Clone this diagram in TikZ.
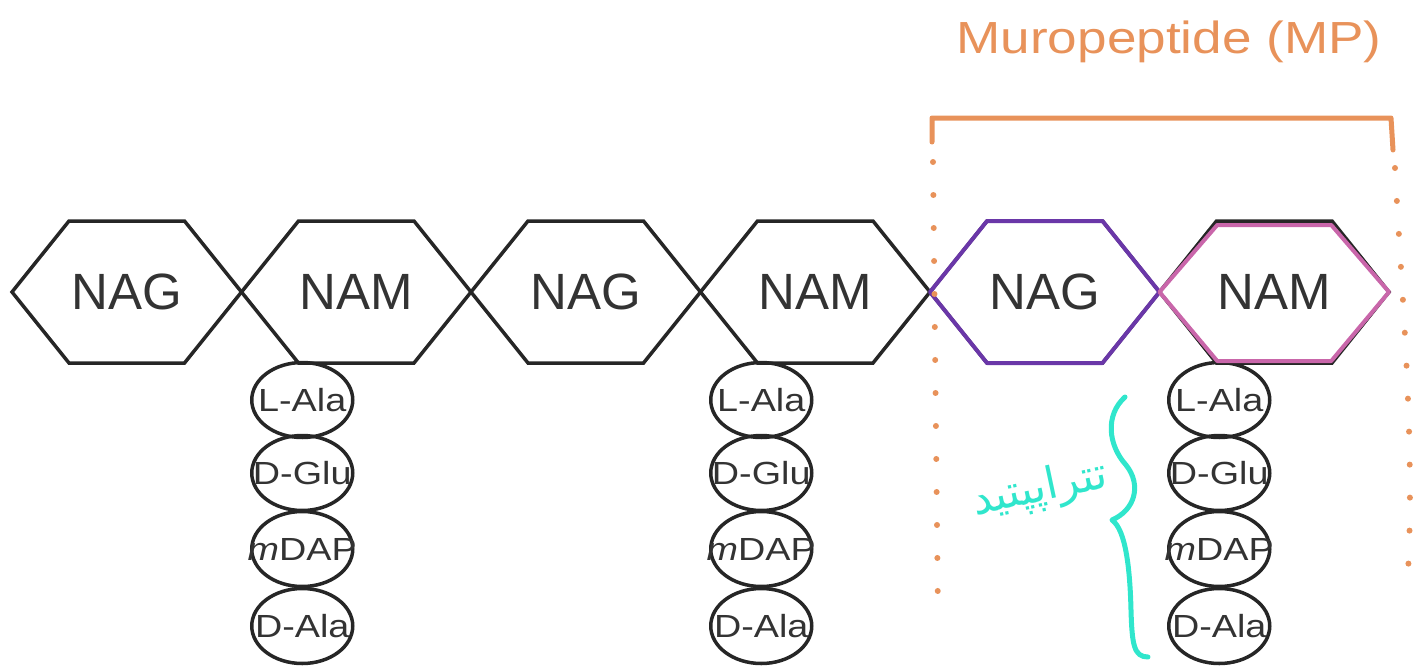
\documentclass[tikz,border=0pt]{standalone}
\usepackage{fontspec}
\setmainfont{Liberation Sans}
\newfontfamily\widesans[FakeStretch=1.18]{Liberation Sans}
\newfontfamily\fafont[Script=Arabic]{DejaVu Sans}
\TeXXeTstate=1
\usetikzlibrary{shapes.geometric}
\definecolor{ink}{HTML}{262626}
\definecolor{txt}{HTML}{333333}
\definecolor{mporange}{HTML}{E8925A}
\definecolor{mppurple}{HTML}{6A37A8}
\definecolor{mppink}{HTML}{C966AA}
\definecolor{mpteal}{HTML}{30E6CC}
\newcommand\hexat[1]{(#1.center) +(-114.75,0) -- +(-57.75,-71) -- +(57.75,-71) -- +(114.75,0) -- +(57.75,71) -- +(-57.75,71) -- cycle}
\newcommand\zw[1]{\makebox[0pt]{#1}}
\begin{document}
\begin{tikzpicture}[x=1pt,y=-1pt,
  sugar/.style={inner sep=0pt, text=txt, font=\fontsize{51}{51}\selectfont},
  hexline/.style={draw=ink, line width=3.5pt, line join=miter},
  amino/.style={ellipse, draw=ink, line width=3.5pt, inner sep=0pt, minimum width=101pt, minimum height=75pt, text=txt, font=\widesans\fontsize{32}{32}\selectfont},
  bracketline/.style={draw=mporange, line width=5pt, line cap=round, line join=round},
  dotline/.style={draw=mporange, line width=6pt, line cap=round, dash pattern=on 0pt off 33pt},
  hand/.style={line width=5pt, line cap=round, line join=round}]
\useasboundingbox (0,0) rectangle (1417,667);
% sugars
\node[sugar] (NAG1) at (126.75,292) {NAG};
\node[sugar] (NAM1) at (356.25,292) {NAM};
\node[sugar] (NAG2) at (585.75,292) {NAG};
\node[sugar] (NAM2) at (815.25,292) {NAM};
\node[sugar] (NAG3) at (1044.75,292) {NAG};
\node[sugar] (NAM3) at (1274.25,292) {NAM};
\foreach \h in {NAG1,NAM1,NAG2,NAM2,NAG3,NAM3} {\draw[hexline] \hexat{\h};}
% peptide stems
\foreach \c/\x in {a/302.25,b/761.25,c/1219.25} {
  \node[amino] (\c1) at (\x,400) {\zw{L-Ala}};
  \node[amino] (\c2) at (\x,473) {\zw{D-Glu}};
  \node[amino] (\c3) at (\x,549) {\zw{\textit{m}DAP}};
  \node[amino] (\c4) at (\x,626) {\zw{D-Ala}};
}
% coloured outlines
\draw[draw=mppurple, line width=4pt, line join=round] \hexat{NAG3};
\draw[draw=mppink, line width=4pt, line join=round] (NAM3.center) +(-114.75,0) -- +(-57,-67) -- +(57,-67) -- +(114.75,0) -- +(57,69) -- +(-57,69) -- cycle;
% muropeptide bracket
\node[text=mporange, inner sep=0pt, font=\widesans\fontsize{45}{45}\selectfont] (MP) at (1169,42) {Muropeptide (MP)};
\coordinate (bl) at (932,142);
\coordinate (blt) at (932,118);
\coordinate (brt) at (1391,118);
\coordinate (br) at (1393,150);
\draw[bracketline] (bl) -- (blt) -- (brt) -- (br);
\coordinate (dl1) at (933,162);
\coordinate (dl2) at (938,615);
\coordinate (dr1) at (1395,168);
\coordinate (dr2) at (1407,590);
\draw[dotline] (dl1) -- (dl2);
\draw[dotline] (dr1) .. controls (1402,300) and (1416,450) .. (dr2);
% teal brace and note
\coordinate (t1) at (1125,397);
\coordinate (t2) at (1112,520);
\coordinate (t3) at (1148,657);
\draw[hand, draw=mpteal] (t1) .. controls (1105,415) and (1108,445) .. (1126,465)
  .. controls (1142,485) and (1135,510) .. (t2)
  .. controls (1126,530) and (1130,570) .. (1131,610)
  .. controls (1132,645) and (1134,657) .. (t3);
\node[text=mpteal, inner sep=0pt, rotate=12, font=\fafont\fontsize{44}{44}\selectfont] (note) at (1040,490) {\beginR تتراپپتید\endR};
\end{tikzpicture}
\end{document}
